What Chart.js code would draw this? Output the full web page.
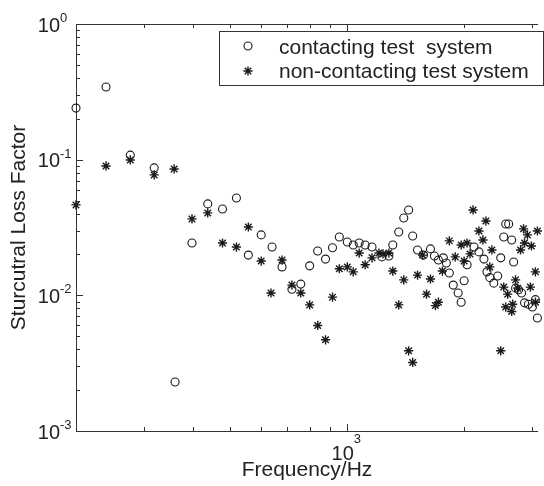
<!DOCTYPE html>
<html><head><meta charset="utf-8">
<script src="https://cdn.jsdelivr.net/npm/chart.js@4/dist/chart.umd.min.js"></script>
<style>html,body{margin:0;padding:0;background:#fff;overflow:hidden}canvas{display:block}</style>
</head><body>
<canvas id="c" width="544" height="486"></canvas>
<script>
const contactFreq = [200, 239, 276, 318, 360, 398, 437, 477, 518, 556, 600, 640, 679, 720, 759, 800, 839, 879, 916, 954, 1000, 1036, 1073, 1112, 1158, 1228, 1280, 1310, 1357, 1398, 1439, 1474, 1517, 1572, 1638, 1677, 1717, 1768, 1800, 1832, 1875, 1930, 1965, 2000, 2035, 2121, 2184, 2249, 2290, 2330, 2385, 2441, 2485, 2530, 2560, 2605, 2652, 2683, 2714, 2762, 2812, 2862, 2929, 2999, 3053, 3089];
const contactLoss = [0.240, 0.343, 0.108, 0.087, 0.0023, 0.0243, 0.0472, 0.0433, 0.0522, 0.0198, 0.0279, 0.0227, 0.0162, 0.0111, 0.0121, 0.0165, 0.0212, 0.0185, 0.0224, 0.0269, 0.0247, 0.0235, 0.0243, 0.0235, 0.0227, 0.0192, 0.0195, 0.0235, 0.0293, 0.0372, 0.0426, 0.0274, 0.0216, 0.0198, 0.0220, 0.0195, 0.0182, 0.0189, 0.0173, 0.0146, 0.0119, 0.0104, 0.0089, 0.0128, 0.0168, 0.0227, 0.0209, 0.0185, 0.0149, 0.0135, 0.0123, 0.0139, 0.0189, 0.0269, 0.0336, 0.0336, 0.0256, 0.0176, 0.0113, 0.0110, 0.0104, 0.0088, 0.0086, 0.0082, 0.0093, 0.0068];
const noncontactFreq = [200, 239, 276, 318, 358, 398, 437, 477, 518, 556, 600, 636, 679, 720, 759, 800, 839, 879, 916, 954, 1000, 1036, 1073, 1112, 1158, 1207, 1236, 1280, 1310, 1357, 1398, 1439, 1474, 1517, 1563, 1600, 1638, 1687, 1717, 1758, 1832, 1897, 1965, 2000, 2035, 2071, 2109, 2184, 2236, 2276, 2330, 2358, 2485, 2530, 2560, 2590, 2652, 2667, 2714, 2746, 2795, 2845, 2862, 2912, 2963, 2981, 3053, 3053, 3089];
const noncontactLoss = [0.0464, 0.0899, 0.0995, 0.0772, 0.0854, 0.0366, 0.0405, 0.0243, 0.0227, 0.0319, 0.0179, 0.0104, 0.0182, 0.0119, 0.0104, 0.0085, 0.0060, 0.0047, 0.0097, 0.0157, 0.0162, 0.0149, 0.0205, 0.0168, 0.0189, 0.0205, 0.0202, 0.0205, 0.0151, 0.0085, 0.0130, 0.0039, 0.0032, 0.0141, 0.0198, 0.0102, 0.0132, 0.0084, 0.0089, 0.0151, 0.0252, 0.0192, 0.0235, 0.0179, 0.0243, 0.0202, 0.0426, 0.0298, 0.0256, 0.0353, 0.0162, 0.0216, 0.0039, 0.0115, 0.0082, 0.0102, 0.0076, 0.0086, 0.0130, 0.0113, 0.0216, 0.0309, 0.0243, 0.0279, 0.0115, 0.0231, 0.0149, 0.0089, 0.0298];
const seriesNames = ['contacting test  system', 'non-contacting test system'];
const xTickValues = [1000];
const xTickExps = ['3'];
const xMinorTicks = [300, 400, 500, 600, 700, 800, 900, 2000, 3000];
const yTickValues = [1, 0.1, 0.01, 0.001];
const yTickExps = ['0', '-1', '-2', '-3'];
const xTitle = 'Frequency/Hz';
const yTitle = 'Sturcutral Loss Factor';

const FONT = '"Liberation Sans", Arial, Helvetica, sans-serif';
const INK = '#1a1a1a';

function toPoints(xs, ys) { return xs.map((x, i) => ({ x: x, y: ys[i] })); }

const yMinorTicks = [];
[0.001, 0.01, 0.1].forEach(d => { for (let k = 2; k <= 9; k++) yMinorTicks.push(d * k); });

function drawMarker(ctx, style, x, y, r, bw) {
  ctx.save();
  ctx.strokeStyle = INK; ctx.fillStyle = 'rgba(0,0,0,0)'; ctx.lineWidth = bw;
  if (Chart.helpers && Chart.helpers.drawPoint) {
    Chart.helpers.drawPoint(ctx, { pointStyle: style, rotation: 0, radius: r, borderWidth: bw }, x, y);
  }
  ctx.restore();
}

const framePlugin = {
  id: 'frame',
  beforeDatasetsDraw(chart) {
    const ctx = chart.ctx, a = chart.chartArea;
    const xs = chart.scales.x, ys = chart.scales.y;
    ctx.save();
    ctx.strokeStyle = '#333'; ctx.lineWidth = 1;
    ctx.beginPath();
    ctx.moveTo(a.left + 0.5, a.top); ctx.lineTo(a.left + 0.5, a.bottom + 1);
    ctx.moveTo(a.left, a.bottom + 0.5); ctx.lineTo(a.right, a.bottom + 0.5);
    ctx.moveTo(a.left, a.top + 0.5); ctx.lineTo(a.right, a.top + 0.5);
    xMinorTicks.forEach(v => {
      const p = Math.round(xs.getPixelForValue(v)) + 0.5;
      ctx.moveTo(p, a.bottom); ctx.lineTo(p, a.bottom - 4);
      ctx.moveTo(p, a.top); ctx.lineTo(p, a.top + 4);
    });
    xTickValues.forEach(v => {
      const p = Math.round(xs.getPixelForValue(v)) + 0.5;
      ctx.moveTo(p, a.bottom); ctx.lineTo(p, a.bottom - 7);
      ctx.moveTo(p, a.top); ctx.lineTo(p, a.top + 7);
    });
    yMinorTicks.forEach(v => {
      const p = Math.round(ys.getPixelForValue(v)) + 0.5;
      ctx.moveTo(a.left, p); ctx.lineTo(a.left + 4, p);
    });
    yTickValues.forEach(v => {
      const p = Math.round(ys.getPixelForValue(v)) + 0.5;
      ctx.moveTo(a.left, p); ctx.lineTo(a.left + 7, p);
    });
    ctx.stroke();
    ctx.restore();
  },
  afterDraw(chart) {
    const ctx = chart.ctx, a = chart.chartArea;
    const xs = chart.scales.x, ys = chart.scales.y;
    ctx.save();
    ctx.fillStyle = '#222';
    yTickValues.forEach((v, i) => {
      const p = ys.getPixelForValue(v);
      ctx.font = '20px ' + FONT; ctx.textAlign = 'right'; ctx.textBaseline = 'alphabetic';
      ctx.fillText('10', 60, p + 7.5);
      ctx.font = '13px ' + FONT; ctx.textAlign = 'left';
      ctx.fillText(yTickExps[i], 60, p - 2);
    });
    xTickValues.forEach((v, i) => {
      const p = xs.getPixelForValue(v);
      ctx.font = '20px ' + FONT; ctx.textAlign = 'right'; ctx.textBaseline = 'alphabetic';
      ctx.fillText('10', p + 6.5, 460);
      ctx.font = '13px ' + FONT; ctx.textAlign = 'left';
      ctx.fillText(xTickExps[i], p + 6.5, 443);
    });
    ctx.font = '21px ' + FONT; ctx.textAlign = 'center'; ctx.textBaseline = 'alphabetic';
    ctx.fillText(xTitle, 307, 476);
    ctx.save();
    ctx.translate(25, (a.top + a.bottom) / 2);
    ctx.rotate(-Math.PI / 2);
    ctx.fillText(yTitle, 0, 0);
    ctx.restore();
    ctx.fillStyle = '#fff';
    ctx.fillRect(219.5, 31.5, 324, 54);
    ctx.strokeStyle = '#333'; ctx.lineWidth = 1;
    ctx.strokeRect(219.5, 31.5, 324, 54);
    const ds = chart.data.datasets;
    drawMarker(ctx, ds[0].pointStyle, 248, 46, ds[0].pointRadius, ds[0].pointBorderWidth);
    drawMarker(ctx, ds[1].pointStyle, 248, 71, ds[1].pointRadius, ds[1].pointBorderWidth);
    ctx.fillStyle = '#222';
    ctx.font = '21px ' + FONT; ctx.textAlign = 'left'; ctx.textBaseline = 'alphabetic';
    ctx.fillText(seriesNames[0], 279, 53.5);
    ctx.fillText(seriesNames[1], 279, 78);
    ctx.restore();
  }
};

new Chart(document.getElementById('c'), {
  type: 'scatter',
  data: {
    datasets: [
      { label: seriesNames[0], data: toPoints(contactFreq, contactLoss), showLine: false,
        pointStyle: 'circle', pointRadius: 4, pointBorderWidth: 1.1,
        pointBorderColor: INK, pointBackgroundColor: 'rgba(0,0,0,0)', clip: false },
      { label: seriesNames[1], data: toPoints(noncontactFreq, noncontactLoss), showLine: false,
        pointStyle: 'star', pointRadius: 4.6, pointBorderWidth: 1.4,
        pointBorderColor: INK, pointBackgroundColor: INK, clip: false }
    ]
  },
  options: {
    responsive: false, animation: false, devicePixelRatio: 1, events: [],
    layout: { padding: { top: 24, right: 0, left: 0, bottom: 0 } },
    plugins: { legend: { display: false }, tooltip: { enabled: false }, title: { display: false } },
    scales: {
      x: { type: 'logarithmic', min: 200, max: 3100,
           ticks: { display: false }, grid: { display: false }, border: { display: false },
           afterFit(s) { s.height = 55; } },
      y: { type: 'logarithmic', min: 0.001, max: 1,
           ticks: { display: false }, grid: { display: false }, border: { display: false },
           afterFit(s) { s.width = 76; } }
    }
  },
  plugins: [framePlugin]
});
</script>
</body></html>
